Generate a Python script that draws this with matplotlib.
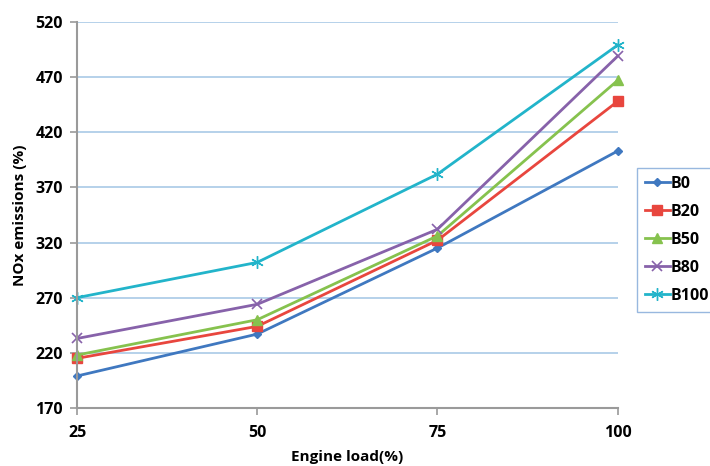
import matplotlib.pyplot as plt

loads = [25, 50, 75, 100]
b0 = [199, 237, 315, 403]
b20 = [215, 244, 322, 448]
b50 = [218, 250, 326, 467]
b80 = [233, 264, 332, 489]
b100 = [270, 302, 382, 499]
series_names = ["B0", "B20", "B50", "B80", "B100"]
y_ticks = [170, 220, 270, 320, 370, 420, 470, 520]

plt.rcParams['font.family'] = ['Open Sans', 'DejaVu Sans']
plt.rcParams['font.weight'] = 'bold'

fig = plt.figure(figsize=(7.1, 4.66), dpi=100)
ax = fig.add_axes([0.1085, 0.1245, 0.7615, 0.8285])

styles = [
    dict(color="#3f78c0", marker="D", ms=4.5),
    dict(color="#e8463e", marker="s", ms=7),
    dict(color="#86c24e", marker="^", ms=7),
    dict(color="#8762aa", marker="x", ms=7, mew=1.2),
    dict(color="#22b4ca", marker=(6, 2, 0), ms=9, mew=1.0),
]
for name, vals, st in zip(series_names, [b0, b20, b50, b80, b100], styles):
    ax.plot(loads, vals, lw=2, label=name, clip_on=False, **st)

ax.set_xlim(25, 100)
ax.set_ylim(170, 520)
ax.set_yticks(y_ticks)
ax.set_xticks(loads)
ax.grid(axis="y", color="#a9c9e6", lw=1.2)
ax.set_axisbelow(True)
for side in ["top", "right"]:
    ax.spines[side].set_visible(False)
for side in ["left", "bottom"]:
    ax.spines[side].set_color("#9a9a9a")
    ax.spines[side].set_linewidth(1.5)
ax.tick_params(axis="both", colors="#9a9a9a", labelcolor="black", labelsize=11.5, width=1.2, length=5)
ax.tick_params(axis="x", pad=7)
ax.tick_params(axis="y", pad=5)
for lbl in ax.get_xticklabels() + ax.get_yticklabels():
    lbl.set_fontweight("bold")

ax.set_xlabel("Engine load(%)", fontsize=11, fontweight="bold", labelpad=7)
ax.set_ylabel("NOx emissions (%)", fontsize=11, fontweight="bold", labelpad=6)

leg = ax.legend(loc="upper left", bbox_to_anchor=(1.035, 0.622), fontsize=11.5, frameon=True,
                fancybox=False, handlelength=1.6, handletextpad=0.05, borderpad=0.5,
                labelspacing=0.75, borderaxespad=0)
leg.get_frame().set_edgecolor("#7ea6d8")
leg.get_frame().set_linewidth(1.0)
for t in leg.get_texts():
    t.set_fontweight("bold")

fig.savefig("out.png", dpi=100)
